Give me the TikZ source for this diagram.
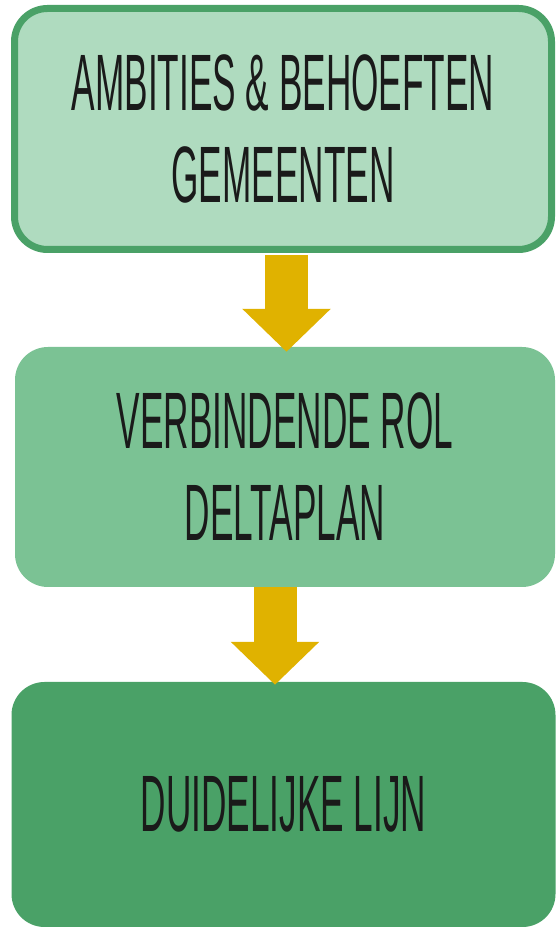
\documentclass[tikz,border=0pt]{standalone}
\usepackage{fontspec}
\newfontfamily\boxfont[FakeStretch=0.44]{Liberation Sans}
\usetikzlibrary{arrows.meta,calc}
\definecolor{lightgreen}{HTML}{AFDBBF}
\definecolor{midgreen}{HTML}{7BC294}
\definecolor{darkgreen}{HTML}{4AA167}
\definecolor{arrowyellow}{HTML}{E0B200}
\definecolor{inkblack}{HTML}{1A1A1A}

\begin{document}
\begin{tikzpicture}[x=1pt, y=1pt,
		box/.style={rectangle, rounded corners=33pt, align=center, text=inkblack,
			font=\boxfont\fontsize{80}{92}\selectfont},
		flow/.style={arrowyellow, line width=43pt, -{Triangle[length=43pt, width=86pt]}}]
	\useasboundingbox (0, 0) rectangle (555, 927);

	\node (ambities) [box, fill=lightgreen, draw=darkgreen, line width=7pt,
		minimum width=537pt, minimum height=241pt] at (283, 798) {AMBITIES \& BEHOEFTEN\\GEMEENTEN};
	\node (rol) [box, fill=midgreen, minimum width=540pt, minimum height=240pt]
		at (285, 460) {VERBINDENDE ROL\\DELTAPLAN};
	\node (lijn) [box, fill=darkgreen, minimum width=544pt, minimum height=245pt]
		at (283.5, 122.5) {DUIDELIJKE LIJN};

	\draw [flow] ($(ambities.south)+(3.5, -2)$) -- ($(rol.north)+(1.5, -5)$);
	\draw [flow] ($(rol.south)+(-10, 0)$) -- ($(lijn.north)+(-8.5, -3)$);
\end{tikzpicture}
\end{document}
